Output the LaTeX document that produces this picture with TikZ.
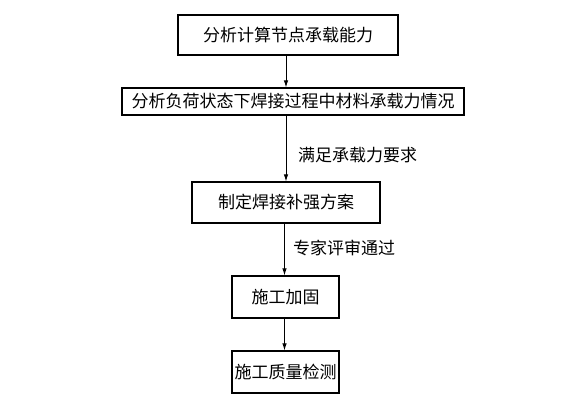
\documentclass[tikz,border=0pt]{standalone}
\usepackage{fontspec}
\newfontfamily\cjk{Noto Sans CJK SC}
\usetikzlibrary{arrows.meta}
\begin{document}
\begin{tikzpicture}[x=1pt,y=-1pt,
  boxnode/.style={draw,line width=1.3pt,inner sep=0pt,font=\cjk\fontsize{17}{17}\selectfont},
  arr/.style={line width=0.8pt,-{Latex[length=7pt,width=4.5pt]}},
  lbl/.style={anchor=west,inner sep=0pt,font=\cjk\fontsize{17}{17}\selectfont}]
\useasboundingbox (0,0) rectangle (581,400);
\node[boxnode,minimum width=220pt,minimum height=40pt] (b1) at (288,35) {分析计算节点承载能力};
\node[boxnode,minimum width=342pt,minimum height=27pt] (b2) at (293,101.5) {分析负荷状态下焊接过程中材料承载力情况};
\node[boxnode,minimum width=188pt,minimum height=41pt] (b3) at (286,202.5) {制定焊接补强方案};
\node[boxnode,minimum width=107pt,minimum height=42pt] (b4) at (285.5,297) {施工加固};
\node[boxnode,minimum width=107pt,minimum height=42pt] (b5) at (285.5,372) {施工质量检测};
\coordinate (ax) at (286,0);
\coordinate (bx) at (284.5,0);
\draw[arr] (b1.south -| ax) -- (b2.north -| ax);
\draw[arr] (b2.south -| ax) -- (b3.north -| ax);
\draw[arr] (b3.south -| bx) -- (b4.north -| bx);
\draw[arr] (b4.south -| bx) -- (b5.north -| bx);
\node[lbl] (l1) at (298,155) {满足承载力要求};
\node[lbl] (l2) at (293,248) {专家评审通过};
\end{tikzpicture}
\end{document}
